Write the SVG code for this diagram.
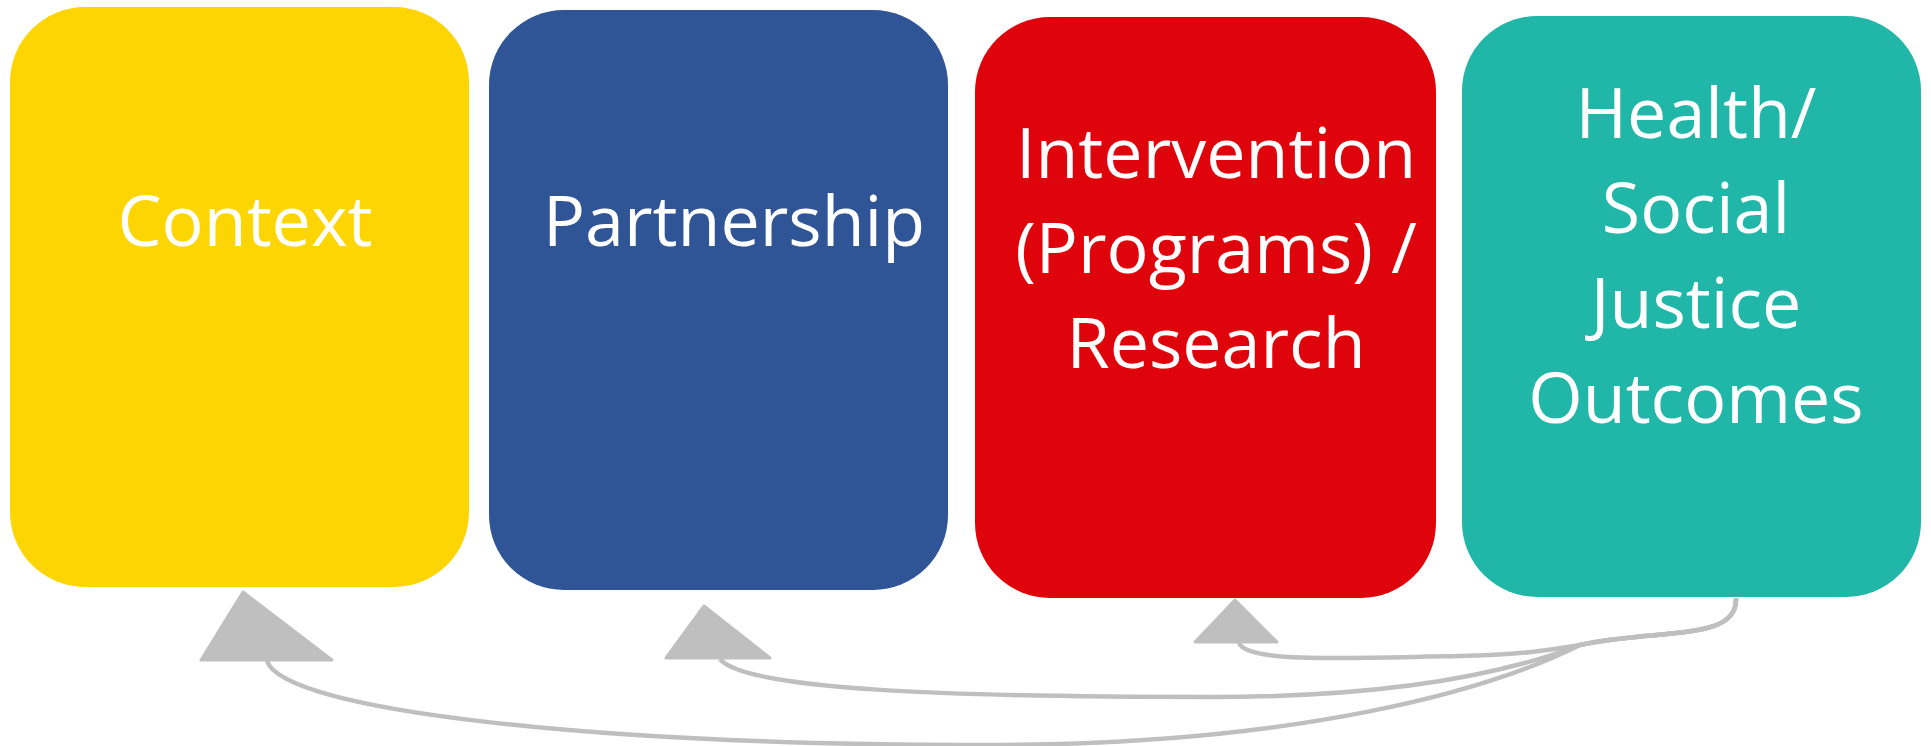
<svg xmlns="http://www.w3.org/2000/svg" width="1931" height="746" viewBox="0 0 1931 746">
<style>
.lbl{font-family:"Open Sans","Liberation Sans",sans-serif;font-size:70px;fill:#FFFFFF;text-anchor:middle}
.conn{fill:none;stroke:#BFBFBF;stroke-width:4.5}
.head{fill:#BFBFBF;stroke:#BFBFBF;stroke-width:3;stroke-linejoin:round}
</style>
<rect width="1931" height="746" fill="#FFFFFF"/>
<g id="context">
<rect x="10" y="7" width="459" height="580" rx="75" fill="#FDD503"/>
<text class="lbl" x="245" y="246">Context</text>
</g>
<g id="partnership">
<rect x="489" y="10" width="459" height="580" rx="75" fill="#2F5597"/>
<text class="lbl" x="734" y="246">Partnership</text>
</g>
<g id="intervention">
<rect x="975" y="17" width="461" height="581" rx="75" fill="#DF040B"/>
<text class="lbl" x="1216" y="178">Intervention</text>
<text class="lbl" x="1216" y="273">(Programs) /</text>
<text class="lbl" x="1216" y="368">Research</text>
</g>
<g id="outcomes">
<rect x="1462" y="16" width="459" height="581" rx="75" fill="#20B6A8"/>
<text class="lbl" x="1696" y="138">Health/</text>
<text class="lbl" x="1696" y="233">Social</text>
<text class="lbl" x="1696" y="328">Justice</text>
<text class="lbl" x="1696" y="423">Outcomes</text>
</g>
<g id="connectors">
<path class="conn" d="M267,661 C285,712 600,745 985,745 C1300,745 1490,690 1580,645 C1660,628 1738,642 1736,598"/>
<path class="conn" d="M720,659 C745,690 950,697 1213,697 C1400,697 1510,672 1580,645 C1660,628 1738,642 1736,598"/>
<path class="conn" d="M1239,643 C1248,663 1340,658 1460,656 C1520,655 1550,650 1580,645 C1660,628 1738,642 1736,598"/>
<polygon class="head" points="243,592 201,660 332,660"/>
<polygon class="head" points="704,606 666,658 770,658"/>
<polygon class="head" points="1235,600 1195,642 1277,642"/>
</g>
</svg>
